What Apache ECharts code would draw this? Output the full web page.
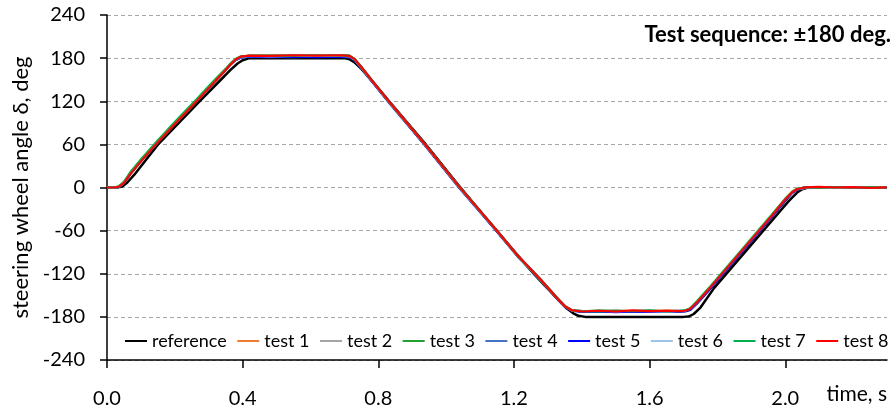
<!DOCTYPE html>
<html>
<head>
<meta charset="utf-8">
<script src="https://cdn.jsdelivr.net/npm/echarts@6/dist/echarts.min.js"></script>
<style>html,body{margin:0;padding:0;background:#fff;}#c{width:896px;height:414px;}</style>
</head>
<body>
<div id="c"></div>
<script>
// ---- data ----
var xTicks = [0, 0.4, 0.8, 1.2, 1.6, 2.0];
var yTicks = [-240, -180, -120, -60, 0, 60, 120, 180, 240];

var tRef = [0, 0.03, 0.045, 0.06, 0.08, 0.15, 0.27, 0.34, 0.365, 0.385, 0.40, 0.42, 0.70, 0.715, 0.73, 0.75, 0.78, 0.83, 0.935, 1.035, 1.145, 1.26, 1.33, 1.355, 1.375, 1.39, 1.41, 1.70, 1.715, 1.73, 1.75, 1.79, 1.89, 1.97, 2.01, 2.035, 2.05, 2.065, 2.08, 2.30];
var vRef = [0, 0, 1.5, 7, 17.5, 59.5, 118.5, 152, 164, 172.5, 177, 180, 180, 178.5, 174, 165, 149, 121, 63, 4, -58, -121, -156, -168, -175, -178.5, -180, -180, -179.5, -176, -167, -140, -85, -41, -19, -7, -2.5, -0.5, 0, 0];

var tTest = [0, 0.02, 0.035, 0.05, 0.07, 0.10, 0.145, 0.20, 0.265, 0.32, 0.35, 0.365, 0.38, 0.395, 0.42, 0.48, 0.55, 0.62, 0.69, 0.715, 0.73, 0.75, 0.78, 0.83, 0.935, 1.036, 1.147, 1.21, 1.277, 1.33, 1.35, 1.37, 1.40, 1.45, 1.50, 1.55, 1.60, 1.65, 1.69, 1.705, 1.72, 1.74, 1.78, 1.88, 1.96, 2.0, 2.02, 2.035, 2.06, 2.10, 2.15, 2.20, 2.25, 2.30];

var test1 = [0, 0, 1, 6.5, 20, 37, 61, 89, 121, 149, 164, 172, 178, 181.5, 183, 183.5, 183, 183.5, 183, 183, 178.5, 167.5, 149.5, 120.5, 61.5, 2.5, -58.5, -94, -127, -154.5, -164.5, -170.5, -172, -172.5, -171.5, -172, -172.5, -171, -172, -171.5, -168.5, -159.5, -138.5, -83.5, -39.5, -16.5, -6.5, -2.2, 0.6, -0.3, 0.4, 0.7, -0.2, 0.2];
var test2 = [0, 0, 0.8, 6, 19.5, 36.5, 60.5, 88.5, 120.5, 148.5, 163.5, 171.5, 177.5, 181.5, 183, 182.5, 183.5, 183, 183.5, 182.5, 178, 167, 149, 120, 61, 2, -59, -94.5, -127.5, -155, -165, -170.5, -171.5, -172, -171, -172.5, -171.5, -172, -171, -171.5, -169, -160.5, -139.5, -84.5, -40.5, -17.5, -7.2, -2.6, -0.3, 0.5, 0.3, -0.3, 0.4, 0];
var test3 = [0, 0, 1.2, 7.5, 21, 38.5, 62, 90.5, 122.5, 150, 164.5, 172.5, 178.5, 182, 183.5, 183, 183.5, 183, 184, 183.5, 179, 167.5, 149.5, 120.5, 61.5, 2.5, -58.5, -94.5, -127.5, -155, -165, -171, -172.5, -171, -172, -172.5, -171.5, -172, -172.5, -171, -168.5, -159, -138, -83, -39, -16, -6.3, -2, -0.2, 0.5, -0.5, 0.4, 0.1, -0.2];
var test4 = [0, 0, 0.9, 6.2, 19.8, 37, 61, 89.5, 121.5, 149.5, 164, 172, 177.5, 180.5, 182, 182, 181.5, 182, 182, 181.5, 177.5, 166.5, 148.5, 119.5, 60.5, 1.5, -59.5, -95, -128, -155.5, -165.5, -171, -172.5, -173, -172, -173, -172.5, -172, -173, -172, -170, -161, -140, -85, -41, -18, -7.5, -3, -0.6, 0.3, -0.4, 0.5, -0.5, 0.2];
var test5 = [0, 0, 1, 6.5, 20, 37.5, 61.5, 89.5, 121.5, 149.5, 164, 172, 177.5, 181, 182, 181.5, 182, 181.5, 182, 181.5, 177, 166, 148, 119, 60, 1, -60, -95.5, -128.5, -156, -166, -171.5, -173, -172.5, -173.5, -172.5, -173, -172.5, -172, -172.5, -170.5, -161.5, -140.5, -85.5, -41.5, -18.5, -7.8, -3.2, 0.5, -0.5, 0.6, -0.3, 0.3, -0.1];
var test6 = [0, 0, 1, 6.8, 20.5, 37.5, 61.5, 89.5, 121.5, 149.5, 164, 172, 178, 181.5, 183, 182.5, 183, 183.5, 183, 182.5, 178, 167, 149, 120, 61, 2, -59, -94.5, -127.5, -155, -165, -171, -172, -171.5, -172.5, -171.5, -172, -172.5, -171.5, -171.5, -168.5, -159.5, -138.5, -83.5, -39.5, -16.5, -6.6, -2.3, -0.2, 0.3, -0.4, 0.2, 0.5, -0.2];
var test7 = [0, 0, 1.5, 8, 22, 39, 63, 91, 123, 151, 165, 173, 179, 182.5, 183, 183.5, 183, 184, 183.5, 183, 178.5, 167, 149, 120, 61, 2, -59, -95, -128, -155.5, -165.5, -171, -172, -172.5, -171.5, -172, -171, -172.5, -171.5, -171, -168, -158, -137, -82, -38, -15.5, -6, -1.8, 0.3, -0.4, 0.6, -0.2, 0.5, -0.3];
var test8 = [0, 0, 1, 6, 19, 36, 60, 88, 120, 148, 163, 171, 178, 182, 183.5, 183, 184, 183.5, 184, 183, 179, 168, 150, 121, 62, 3, -58, -94, -127, -155, -165, -170.5, -172.5, -171.5, -172.5, -171, -172, -171.5, -172, -171.5, -169, -160, -139, -84, -40, -17, -7, -2.5, 0.2, 0.8, 0, 0.6, -0.4, 0.3];

var seriesNames = ['reference', 'test 1', 'test 2', 'test 3', 'test 4', 'test 5', 'test 6', 'test 7', 'test 8'];
var seriesColors = ['#000000', '#ED7D31', '#A5A5A5', '#22A030', '#4472C4', '#0000FF', '#9DC3E6', '#00B050', '#FF0000'];

// ---- build ----
function pairs(t, v) { return t.map(function (x, i) { return [x, v[i]]; }); }
var seriesData = [pairs(tRef, vRef), pairs(tTest, test1), pairs(tTest, test2), pairs(tTest, test3), pairs(tTest, test4),
  pairs(tTest, test5), pairs(tTest, test6), pairs(tTest, test7), pairs(tTest, test8)];

var FONT = 'Lato';
var chart = echarts.init(document.getElementById('c'), null, { renderer: 'canvas' });
chart.setOption({
  animation: false,
  backgroundColor: '#ffffff',
  title: {
    text: 'Test sequence: \u00b1180 deg.',
    right: 5, top: 24, padding: 0,
    textStyle: { fontFamily: FONT, fontWeight: 'bold', fontSize: 22, color: '#000' }
  },
  legend: {
    left: 125, top: 332, width: 900,
    itemGap: 10.5, itemWidth: 22, itemHeight: 2, icon: 'rect',
    padding: 0,
    data: seriesNames,
    textStyle: { fontFamily: FONT, fontSize: 18, color: '#000' }
  },
  grid: { left: 107, right: 9, top: 15, bottom: 54 },
  xAxis: {
    type: 'value', min: 0, max: 2.3,
    name: 'time, s', nameLocation: 'end', nameGap: 0,
    nameTextStyle: { fontFamily: FONT, fontSize: 21, color: '#000', align: 'right', verticalAlign: 'top', padding: [24, 0, 0, 0] },
    axisLine: { onZero: false, lineStyle: { color: '#000', width: 1.5 } },
    axisTick: { customValues: xTicks, length: 8, lineStyle: { color: '#000', width: 1.5 } },
    axisLabel: { customValues: xTicks, margin: 29, fontFamily: FONT, fontSize: 20, color: '#000',
      formatter: function (v) { return v.toFixed(1); } },
    splitLine: { show: false }
  },
  yAxis: {
    type: 'value', min: yTicks[0], max: yTicks[yTicks.length - 1], interval: 60,
    name: 'steering wheel angle \u03b4, deg', nameLocation: 'middle', nameGap: 73,
    nameTextStyle: { fontFamily: FONT, fontSize: 22, color: '#000' },
    axisLine: { show: true, lineStyle: { color: '#000', width: 1.5 } },
    axisTick: { show: true, length: 7, lineStyle: { color: '#000', width: 1.5 } },
    axisLabel: { margin: 22, fontFamily: FONT, fontSize: 20, color: '#000' },
    splitLine: { show: true, lineStyle: { color: '#A6A6A6', width: 1, type: [4, 3] } }
  },
  series: seriesNames.map(function (n, i) {
    return {
      name: n, type: 'line', data: seriesData[i], showSymbol: false, symbol: 'none',
      smooth: false, color: seriesColors[i],
      lineStyle: { width: i === 0 ? 2.5 : 2.2, color: seriesColors[i] }
    };
  })
});
</script>
</body>
</html>
